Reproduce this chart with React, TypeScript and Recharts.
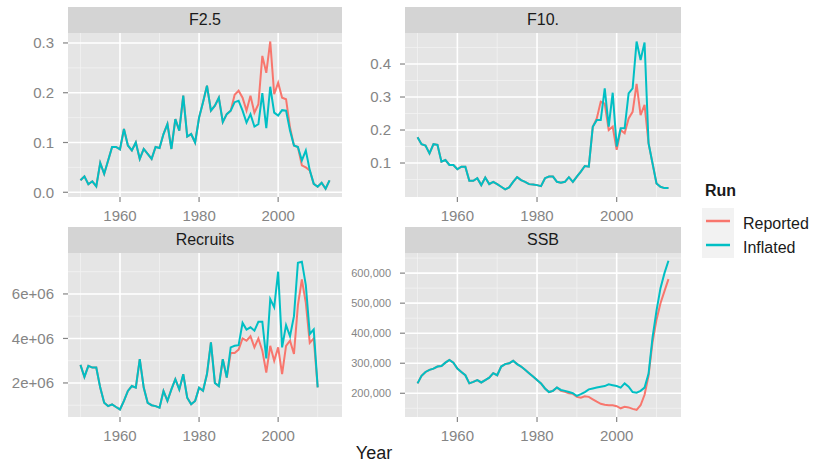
import React from 'react';
import { LineChart, Line, XAxis, YAxis, CartesianGrid } from 'recharts';

const years = [
  1950, 1951, 1952, 1953, 1954, 1955, 1956, 1957, 1958, 1959,
  1960, 1961, 1962, 1963, 1964, 1965, 1966, 1967, 1968, 1969,
  1970, 1971, 1972, 1973, 1974, 1975, 1976, 1977, 1978, 1979,
  1980, 1981, 1982, 1983, 1984, 1985, 1986, 1987, 1988, 1989,
  1990, 1991, 1992, 1993, 1994, 1995, 1996, 1997, 1998, 1999,
  2000, 2001, 2002, 2003, 2004, 2005, 2006, 2007, 2008, 2009,
  2010, 2011, 2012, 2013,
];

const f25Inflated = [
  0.024, 0.032, 0.016, 0.022, 0.012, 0.059, 0.037, 0.064, 0.091, 0.091,
  0.086, 0.127, 0.094, 0.084, 0.100, 0.067, 0.087, 0.077, 0.067, 0.091,
  0.089, 0.117, 0.137, 0.087, 0.147, 0.124, 0.194, 0.112, 0.117, 0.100,
  0.150, 0.181, 0.214, 0.164, 0.174, 0.190, 0.141, 0.157, 0.164, 0.181,
  0.184, 0.164, 0.140, 0.157, 0.132, 0.137, 0.199, 0.129, 0.212, 0.160,
  0.154, 0.165, 0.164, 0.124, 0.094, 0.091, 0.064, 0.084, 0.044, 0.017,
  0.011, 0.019, 0.007, 0.024,
];
const f25Reported = [
  0.024, 0.032, 0.016, 0.022, 0.012, 0.059, 0.037, 0.064, 0.091, 0.091,
  0.086, 0.127, 0.094, 0.084, 0.100, 0.067, 0.087, 0.077, 0.067, 0.091,
  0.089, 0.117, 0.137, 0.087, 0.147, 0.124, 0.194, 0.112, 0.117, 0.100,
  0.150, 0.181, 0.214, 0.164, 0.174, 0.190, 0.141, 0.157, 0.164, 0.196,
  0.204, 0.190, 0.164, 0.194, 0.160, 0.177, 0.274, 0.240, 0.303, 0.197,
  0.220, 0.190, 0.187, 0.130, 0.094, 0.091, 0.054, 0.050, 0.044, 0.017,
  0.011, 0.019, 0.007, 0.024,
];

const f10Inflated = [
  0.178, 0.157, 0.153, 0.129, 0.157, 0.155, 0.104, 0.109, 0.094, 0.094,
  0.081, 0.089, 0.089, 0.046, 0.046, 0.054, 0.033, 0.056, 0.036, 0.043,
  0.036, 0.028, 0.020, 0.026, 0.043, 0.057, 0.048, 0.043, 0.036, 0.035,
  0.033, 0.030, 0.054, 0.059, 0.059, 0.043, 0.040, 0.043, 0.057, 0.043,
  0.059, 0.074, 0.091, 0.089, 0.210, 0.230, 0.230, 0.326, 0.210, 0.313,
  0.150, 0.205, 0.205, 0.311, 0.326, 0.468, 0.412, 0.465, 0.160, 0.099,
  0.038, 0.028, 0.024, 0.024,
];
const f10Reported = [
  0.178, 0.157, 0.153, 0.129, 0.157, 0.155, 0.104, 0.109, 0.094, 0.094,
  0.081, 0.089, 0.089, 0.046, 0.046, 0.054, 0.033, 0.056, 0.036, 0.043,
  0.036, 0.028, 0.020, 0.026, 0.043, 0.057, 0.048, 0.043, 0.036, 0.035,
  0.033, 0.030, 0.054, 0.059, 0.059, 0.043, 0.040, 0.043, 0.057, 0.043,
  0.059, 0.074, 0.091, 0.089, 0.210, 0.235, 0.286, 0.280, 0.200, 0.210,
  0.140, 0.200, 0.190, 0.235, 0.255, 0.340, 0.245, 0.276, 0.160, 0.099,
  0.038, 0.028, 0.024, 0.024,
];

const recruitsInflated = [
  2.81e6, 2.27e6, 2.77e6, 2.69e6, 2.69e6, 1.79e6, 1.11e6, 0.96e6, 1.04e6, 0.92e6,
  0.81e6, 1.19e6, 1.64e6, 1.86e6, 1.79e6, 3.07e6, 1.79e6, 1.11e6, 1.0e6, 0.96e6,
  0.89e6, 1.64e6, 1.19e6, 1.71e6, 2.17e6, 1.71e6, 2.39e6, 1.34e6, 1.04e6, 1.19e6,
  1.79e6, 1.65e6, 2.4e6, 3.82e6, 2.0e6, 1.86e6, 3.07e6, 2.24e6, 3.6e6, 3.67e6,
  3.7e6, 4.7e6, 4.4e6, 4.5e6, 4.35e6, 4.75e6, 4.75e6, 3.1e6, 5.77e6, 5.4e6,
  7.0e6, 3.6e6, 4.6e6, 4.1e6, 5.0e6, 7.4e6, 7.45e6, 6.4e6, 4.2e6, 4.4e6,
  1.8e6, null, null, null,
];
const recruitsReported = [
  2.81e6, 2.27e6, 2.77e6, 2.69e6, 2.69e6, 1.79e6, 1.11e6, 0.96e6, 1.04e6, 0.92e6,
  0.81e6, 1.19e6, 1.64e6, 1.86e6, 1.79e6, 3.07e6, 1.79e6, 1.11e6, 1.0e6, 0.96e6,
  0.89e6, 1.64e6, 1.19e6, 1.71e6, 2.17e6, 1.71e6, 2.39e6, 1.34e6, 1.04e6, 1.19e6,
  1.79e6, 1.65e6, 2.4e6, 3.82e6, 2.0e6, 1.86e6, 3.07e6, 2.24e6, 3.35e6, 3.35e6,
  3.5e6, 4.0e6, 3.9e6, 4.1e6, 3.6e6, 4.0e6, 3.45e6, 2.47e6, 3.67e6, 3.0e6,
  3.6e6, 2.4e6, 3.67e6, 3.9e6, 3.3e6, 5.5e6, 6.65e6, 5.6e6, 3.8e6, 4.0e6,
  1.8e6, null, null, null,
];

const ssbInflated = [
  233000, 258000, 271000, 278000, 282000, 289000, 291000, 302000, 311000, 302000,
  282000, 271000, 260000, 233000, 238000, 244000, 236000, 244000, 252000, 267000,
  260000, 289000, 297000, 300000, 308000, 297000, 289000, 278000, 267000, 256000,
  244000, 233000, 216000, 204000, 208000, 219000, 211000, 208000, 204000, 200000,
  191000, 197000, 204000, 213000, 216000, 219000, 222000, 224000, 230000, 227000,
  224000, 219000, 233000, 222000, 204000, 202000, 208000, 219000, 265000, 385000,
  475000, 550000, 600000, 641000,
];
const ssbReported = [
  233000, 258000, 271000, 278000, 282000, 289000, 291000, 302000, 311000, 302000,
  282000, 271000, 260000, 233000, 238000, 244000, 236000, 244000, 252000, 267000,
  260000, 289000, 297000, 300000, 308000, 297000, 289000, 278000, 267000, 256000,
  244000, 233000, 216000, 204000, 208000, 219000, 208000, 205000, 200000, 198000,
  188000, 185000, 190000, 188000, 180000, 172000, 165000, 162000, 160000, 160000,
  157000, 150000, 155000, 153000, 148000, 145000, 160000, 195000, 258000, 370000,
  445000, 500000, 540000, 580000,
];

const xTicks = [1960, 1980, 2000];
const xMinor = [1950, 1970, 1990, 2010];
const xDomain = [1946.85, 2016.15];

const RED = '#F8766D';
const TEAL = '#00BFC4';
const FONT = '"Liberation Sans", Arial, sans-serif';
const PANEL_BG = '#E5E5E5';
const STRIP_BG = '#D4D4D4';
const TICK_COLOR = '#858585';

function rows(rep: (number | null)[], inf: (number | null)[]) {
  return years.map((y, i) => ({ year: y, reported: rep[i], inflated: inf[i] }));
}

const fmtE = (v: number) => `${Math.round(v / 1e6)}e+06`;
const fmtComma = (v: number) => v.toLocaleString('en-US');
const fmtDec = (v: number) => v.toFixed(1);

type PanelProps = {
  title: string;
  left: number;
  top: number;
  plotW: number;
  plotH: number;
  data: any[];
  yDomain: number[];
  yTicks: number[];
  yMinor: number[];
  yFmt: (v: number) => string;
  yFont: number;
};

function Panel(p: PanelProps) {
  const yW = 64;
  const stripH = 26;
  return (
    <>
      <div
        style={{
          position: 'absolute',
          left: p.left,
          top: p.top - stripH,
          width: p.plotW,
          height: stripH,
          background: STRIP_BG,
          display: 'flex',
          alignItems: 'center',
          justifyContent: 'center',
          fontSize: 16,
          color: '#1A1A1A',
          fontFamily: FONT,
        }}
      >
        {p.title}
      </div>
      <div style={{ position: 'absolute', left: p.left - yW, top: p.top }}>
        <LineChart
          width={yW + p.plotW}
          height={p.plotH + 40}
          data={p.data}
          margin={{ top: 0, right: 0, bottom: 0, left: 0 }}
        >
          <CartesianGrid
            fill={PANEL_BG}
            fillOpacity={1}
            stroke="#F2F2F2"
            strokeWidth={0.8}
            horizontalValues={p.yMinor}
            verticalValues={xMinor}
          />
          <CartesianGrid
            stroke="#FFFFFF"
            strokeWidth={1.6}
            horizontalValues={p.yTicks}
            verticalValues={xTicks}
          />
          <XAxis
            dataKey="year"
            type="number"
            domain={xDomain}
            ticks={xTicks}
            interval={0}
            allowDataOverflow
            axisLine={false}
            tickSize={5}
            tickMargin={8}
            height={40}
            tick={{ fontSize: 15, fill: TICK_COLOR, fontFamily: FONT }}
            tickLine={{ stroke: TICK_COLOR, strokeWidth: 1.2 }}
          />
          <YAxis
            type="number"
            domain={p.yDomain}
            ticks={p.yTicks}
            interval={0}
            allowDataOverflow
            width={yW}
            axisLine={false}
            tickSize={5}
            tickMargin={9}
            tickFormatter={p.yFmt}
            tick={{ fontSize: p.yFont, fill: TICK_COLOR, fontFamily: FONT }}
            tickLine={{ stroke: TICK_COLOR, strokeWidth: 1.2 }}
          />
          <Line
            type="linear"
            dataKey="reported"
            stroke={RED}
            strokeWidth={2}
            dot={false}
            activeDot={false}
            isAnimationActive={false}
          />
          <Line
            type="linear"
            dataKey="inflated"
            stroke={TEAL}
            strokeWidth={2}
            dot={false}
            activeDot={false}
            isAnimationActive={false}
          />
        </LineChart>
      </div>
    </>
  );
}

export default function App() {
  return (
    <div
      style={{
        position: 'absolute',
        left: 0,
        top: 0,
        width: 815,
        height: 464,
        background: '#FFFFFF',
        overflow: 'hidden',
        fontFamily: FONT,
      }}
    >
      <Panel
        title="F2.5"
        left={68}
        top={33}
        plotW={274}
        plotH={164}
        data={rows(f25Reported, f25Inflated)}
        yDomain={[-0.0095, 0.32]}
        yTicks={[0, 0.1, 0.2, 0.3]}
        yMinor={[0.05, 0.15, 0.25]}
        yFmt={fmtDec}
        yFont={15}
      />
      <Panel
        title="F10."
        left={405}
        top={33}
        plotW={276}
        plotH={164}
        data={rows(f10Reported, f10Inflated)}
        yDomain={[-0.003, 0.494]}
        yTicks={[0.1, 0.2, 0.3, 0.4]}
        yMinor={[0.05, 0.15, 0.25, 0.35, 0.45]}
        yFmt={fmtDec}
        yFont={15}
      />
      <Panel
        title="Recruits"
        left={68}
        top={253}
        plotW={274}
        plotH={164}
        data={rows(recruitsReported, recruitsInflated)}
        yDomain={[0.47e6, 7.84e6]}
        yTicks={[2e6, 4e6, 6e6]}
        yMinor={[1e6, 3e6, 5e6, 7e6]}
        yFmt={fmtE}
        yFont={15}
      />
      <Panel
        title="SSB"
        left={405}
        top={253}
        plotW={276}
        plotH={164}
        data={rows(ssbReported, ssbInflated)}
        yDomain={[121000, 667000]}
        yTicks={[200000, 300000, 400000, 500000, 600000]}
        yMinor={[150000, 250000, 350000, 450000, 550000, 650000]}
        yFmt={fmtComma}
        yFont={11}
      />
      <div
        style={{
          position: 'absolute',
          left: 274,
          width: 200,
          top: 443,
          textAlign: 'center',
          fontSize: 18,
          color: '#1A1A1A',
        }}
      >
        Year
      </div>
      <div
        style={{
          position: 'absolute',
          left: 705,
          top: 182,
          fontSize: 16,
          fontWeight: 'bold',
          color: '#1A1A1A',
        }}
      >
        Run
      </div>
      <svg
        style={{ position: 'absolute', left: 702, top: 208 }}
        width={32}
        height={50}
      >
        <rect x={0} y={0} width={32} height={25} fill="#F2F2F2" />
        <rect x={0} y={25} width={32} height={25} fill="#F2F2F2" />
        <line x1={4} x2={28} y1={13} y2={13} stroke={RED} strokeWidth={2.5} />
        <line x1={4} x2={28} y1={37} y2={37} stroke={TEAL} strokeWidth={2.5} />
      </svg>
      <div
        style={{
          position: 'absolute',
          left: 743,
          top: 212,
          fontSize: 16,
          color: '#1A1A1A',
          lineHeight: '24px',
        }}
      >
        <div>Reported</div>
        <div>Inflated</div>
      </div>
    </div>
  );
}
